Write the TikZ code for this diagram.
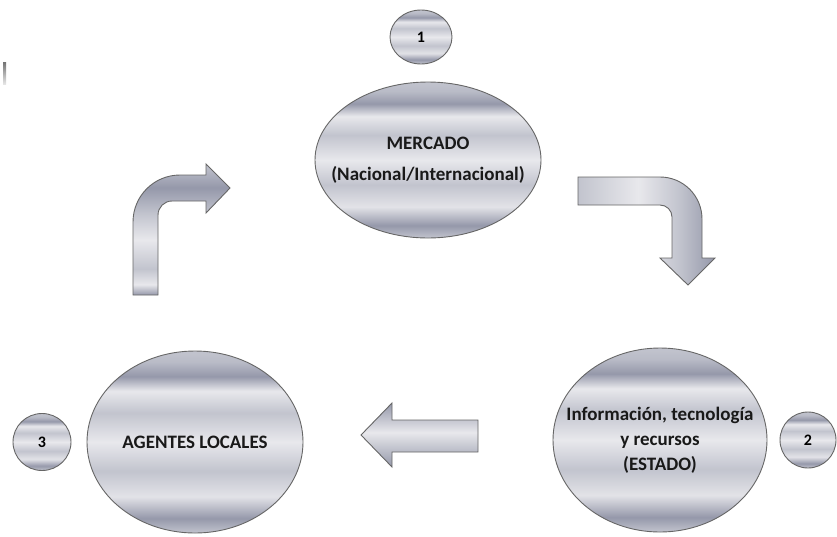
\documentclass[tikz,border=0pt]{standalone}
\usepackage{fontspec}
\setmainfont{Carlito}
\usepackage{tikz}
\usetikzlibrary{shapes.geometric}
\definecolor{metalD}{HTML}{9598AA}
\definecolor{metalM}{HTML}{C2C4CE}
\definecolor{metalL}{HTML}{E8E8EC}
% la banda visible va de 25bp a 75bp
\pgfdeclareverticalshading{metalv}{100bp}{color(0bp)=(metalM); color(25bp)=(metalM);
  color(29bp)=(metalD); color(35bp)=(metalL!85!metalM); color(42bp)=(metalM);
  color(50bp)=(metalL); color(58bp)=(metalM); color(64bp)=(metalL);
  color(68bp)=(metalD); color(72bp)=(metalM!80!metalD); color(75bp)=(metalM);
  color(100bp)=(metalM)}
\pgfdeclareverticalshading{tubev}{100bp}{color(0bp)=(metalD); color(25bp)=(metalD);
  color(40bp)=(metalM); color(52bp)=(metalL); color(75bp)=(metalD); color(100bp)=(metalD)}
\pgfdeclareverticalshading{tubeup}{100bp}{color(0bp)=(metalD); color(25bp)=(metalD);
  color(29bp)=(metalL); color(35bp)=(metalM); color(46bp)=(metalL);
  color(56bp)=(metalM); color(66bp)=(metalD); color(75bp)=(metalM); color(100bp)=(metalM)}
\pgfdeclarehorizontalshading{tubeh}{100bp}{color(0bp)=(metalM); color(25bp)=(metalM);
  color(47bp)=(metalL); color(62bp)=(metalM); color(75bp)=(metalD); color(100bp)=(metalD)}
\tikzset{
  metal/.style = {draw=black!60, line width=0.9pt, shading=metalv},
  bigell/.style = {ellipse, metal, align=center, inner sep=-30pt,
    text=black!90, font=\bfseries\fontsize{19}{25}\selectfont},% gran elipse
  numell/.style = {ellipse, metal, inner sep=0pt, minimum width=58pt,
    minimum height=57pt, font=\bfseries\fontsize{16}{18}\selectfont},% numero
  flecha/.style = {draw=black!60, line width=0.9pt}% flecha de bloque
}

\begin{document}
\begin{tikzpicture}[x=1pt,y=-1pt]
\useasboundingbox (0,0) rectangle (837,536);
% marca en el borde
\shade[top color=black!55, bottom color=black!10] (3,62) rectangle (6,84);
\node [bigell, minimum width=226pt, minimum height=156pt] (merc) at (428,160)
  {MERCADO\\[6pt](Nacional/Internacional)};
\node [bigell, minimum width=214pt, minimum height=184pt] (info) at (660,440)
  {Información, tecnología\\y recursos\\(ESTADO)};
\node [bigell, minimum width=216pt, minimum height=182pt] (agen) at (195,442)
  {AGENTES LOCALES};
\node [numell, minimum width=62pt, minimum height=54pt] (n1) at (merc) [xshift=-7pt,yshift=123pt] {1};
\node [numell, minimum width=56pt, minimum height=56pt] (n2) at (info) [xshift=148pt] {2};
\node [numell] (n3) at (agen) [xshift=-153pt] {3};
% flechas
\path [flecha, shading=tubeh] (578,177) -- (660,177) to[out=0,in=90] (702,219)
  -- (702,258) -- (715,258) -- (688,285) -- (660,258) -- (672,258)
  -- (672,217) to[out=90,in=0] (660,205) -- (578,205) -- cycle;
\path [flecha, shading=tubev] (478,420) -- (392,420) -- (392,403) -- (361,435)
  -- (392,467) -- (392,452) -- (478,452) -- cycle;
\path [flecha, shading=tubeup] (133,295) -- (133,222) to[out=90,in=180] (180,175)
  -- (206,175) -- (206,164) -- (230,188) -- (206,213) -- (206,201)
  -- (172,201) to[out=180,in=90] (158,215) -- (158,295) -- cycle;
\end{tikzpicture}
\end{document}
